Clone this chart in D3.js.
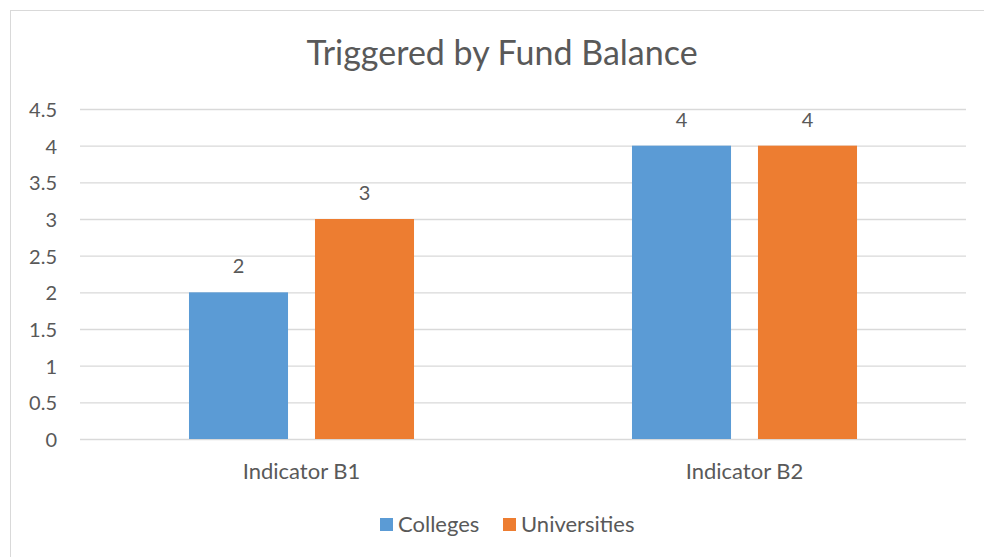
<!DOCTYPE html>
<html><head><meta charset="utf-8">
<script src="https://cdn.jsdelivr.net/npm/d3@7"></script>
<style>body{margin:0;background:#fff}svg{display:block}text{font-family:Lato,sans-serif;fill:#595959}</style>
</head><body><svg width="984" height="557"></svg>
<script>
const title = "Triggered by Fund Balance";
const categories = ["Indicator B1", "Indicator B2"];
const seriesNames = ["Colleges", "Universities"];
const colleges = [2, 4];
const universities = [3, 4];
const yTicks = [0, 0.5, 1, 1.5, 2, 2.5, 3, 3.5, 4, 4.5];
const colors = ["#5b9bd5", "#ed7d31"];

const svg = d3.select("svg");
svg.append("rect").attr("x",10.5).attr("y",10.5).attr("width",1000).attr("height",600)
  .attr("fill","#fff").attr("stroke","#d9d9d9").attr("stroke-width",1);

const L=80, R=966, T=109, B=439;
const y = d3.scaleLinear().domain([0,4.5]).range([B,T]);
const x0 = d3.scaleBand().domain(categories).range([L,R]).paddingInner(0).paddingOuter(0);
const x1 = d3.scaleBand().domain(seriesNames).range([0,x0.bandwidth()]).paddingInner(0.214).paddingOuter(0.865);

const yAxis = d3.axisLeft(y).tickValues(yTicks).tickSize(-(R-L)).tickFormat(d=>String(d));
const ga = svg.append("g").attr("transform",`translate(${L},0)`).call(yAxis);
ga.select(".domain").remove();
ga.selectAll(".tick line").attr("stroke","#d9d9d9").attr("stroke-width",1.3);
ga.selectAll(".tick text").attr("x",-23).attr("font-size",20).attr("fill","#595959").attr("dy","0.38em");

const xAxis = d3.axisBottom(x0).tickSize(0);
const gx = svg.append("g").attr("transform",`translate(0,${B})`).call(xAxis);
gx.select(".domain").remove();
gx.selectAll(".tick text").attr("font-size",22).attr("fill","#595959").attr("y",40).attr("dy",0);

const series = [colleges, universities];
categories.forEach((c,i)=>{
  seriesNames.forEach((s,j)=>{
    const v = series[j][i];
    const bx = x0(c)+x1(s);
    svg.append("rect").attr("x",bx).attr("y",y(v)).attr("width",x1.bandwidth()).attr("height",y(0)-y(v)).attr("fill",colors[j]);
    svg.append("text").attr("x",bx+x1.bandwidth()/2).attr("y",y(v)-19).attr("text-anchor","middle")
      .attr("font-size",20).attr("fill","#404040").text(v);
  });
});

svg.append("text").attr("x",502).attr("y",65).attr("text-anchor","middle").attr("font-size",34).attr("fill","#595959").text(title);

const leg = [{x:380},{x:503}];
seriesNames.forEach((s,j)=>{
  svg.append("rect").attr("x",leg[j].x).attr("y",518).attr("width",13).attr("height",13).attr("fill",colors[j]);
  svg.append("text").attr("x",leg[j].x+18).attr("y",532).attr("font-size",22).attr("fill","#595959").text(s);
});
</script></body></html>
